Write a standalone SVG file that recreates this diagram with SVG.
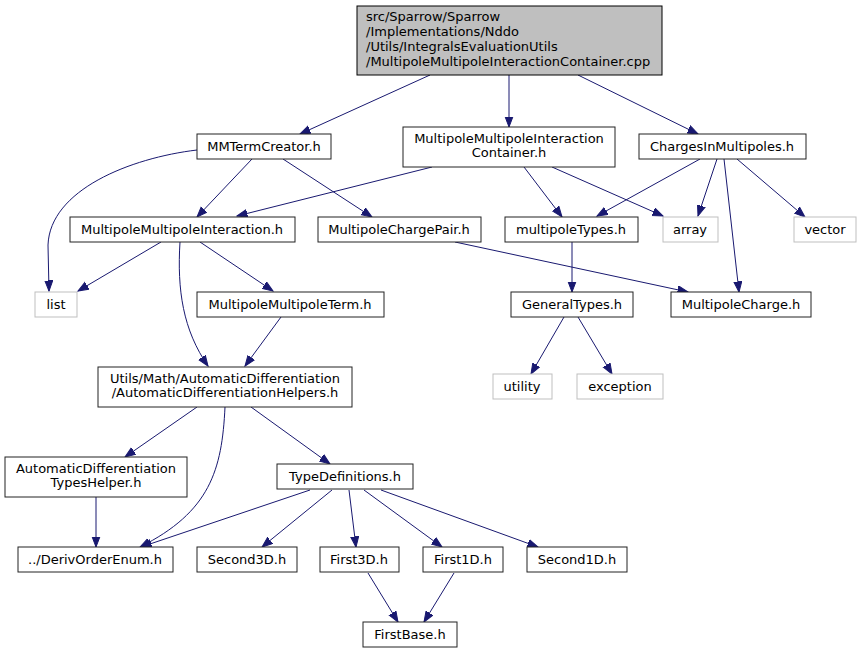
<svg xmlns="http://www.w3.org/2000/svg" width="861" height="653" viewBox="0 0 861 653">
<style>
.n rect{fill:#fff;stroke:#222;stroke-width:1}
.g rect{fill:#fff;stroke:#bfbfbf;stroke-width:1}
.r rect{fill:#bfbfbf;stroke:#000;stroke-width:1}
text{font-family:"DejaVu Sans",sans-serif;font-size:13px;fill:#000}
.c text{text-anchor:middle}
#edges path{fill:none;stroke:#191970;stroke-width:1;marker-end:url(#ah)}
</style>
<defs>
<marker id="ah" markerUnits="userSpaceOnUse" markerWidth="12" markerHeight="10" refX="10.5" refY="4.5" orient="auto">
<path d="M0,0.5 L10.5,4.5 L0,8.5 z" fill="#191970" stroke="#191970" stroke-width="1"/>
</marker>
</defs>
<rect width="861" height="653" fill="#fff"/>
<g id="edges">
<path d="M430,75 L300,134"/>
<path d="M509,75 L509,127"/>
<path d="M578,75 L698,134"/>
<path d="M197,150 C130,158 50,190 48,245 L49,291"/>
<path d="M252,159 L197,217"/>
<path d="M283,159 L372,217"/>
<path d="M432,167 L237,216"/>
<path d="M524,167 L562,217"/>
<path d="M552,167 L663,216"/>
<path d="M700,159 L597,216"/>
<path d="M717,159 L698,216"/>
<path d="M724,159 L739,292"/>
<path d="M737,159 L805,217"/>
<path d="M455,242 L688,292"/>
<path d="M572,242 L572,292"/>
<path d="M161,242 L78,291"/>
<path d="M200,242 L273,291"/>
<path d="M180,242 C177,290 183,330 208,366"/>
<path d="M281,317 L245,366"/>
<path d="M564,317 L531,374"/>
<path d="M578,317 L612,374"/>
<path d="M197,407 L125,457"/>
<path d="M225,407 C222,470 210,512 140,547"/>
<path d="M251,407 L330,464"/>
<path d="M96,497 L96,547"/>
<path d="M310,490 L141,547"/>
<path d="M332,490 L262,547"/>
<path d="M349,490 L356,547"/>
<path d="M364,490 L442,547"/>
<path d="M381,490 L538,547"/>
<path d="M368,573 L398,622"/>
<path d="M454,573 L424,622"/>
</g>
<g id="root" class="r"><rect x="357" y="6" width="305" height="69"/>
<text x="366" y="21">src/Sparrow/Sparrow</text>
<text x="366" y="36">/Implementations/Nddo</text>
<text x="366" y="51">/Utils/IntegralsEvaluationUtils</text>
<text x="366" y="66">/MultipoleMultipoleInteractionContainer.cpp</text></g>
<g id="MMTermCreator" class="n c"><rect x="197" y="134" width="134" height="25"/><text x="264" y="151">MMTermCreator.h</text></g>
<g id="MMIContainer" class="n c"><rect x="403" y="127" width="212" height="40"/><text x="509" y="143">MultipoleMultipoleInteraction</text><text x="509" y="157">Container.h</text></g>
<g id="ChargesInMultipoles" class="n c"><rect x="639" y="134" width="167" height="25"/><text x="722" y="151">ChargesInMultipoles.h</text></g>
<g id="MMInteraction" class="n c"><rect x="70" y="217" width="225" height="25"/><text x="182" y="234">MultipoleMultipoleInteraction.h</text></g>
<g id="MultipoleChargePair" class="n c"><rect x="318" y="217" width="163" height="25"/><text x="399" y="234">MultipoleChargePair.h</text></g>
<g id="multipoleTypes" class="n c"><rect x="505" y="217" width="133" height="25"/><text x="571" y="234">multipoleTypes.h</text></g>
<g id="array" class="g c"><rect x="663" y="217" width="55" height="25"/><text x="690" y="234">array</text></g>
<g id="vector" class="g c"><rect x="794" y="217" width="62" height="25"/><text x="825" y="234">vector</text></g>
<g id="list" class="g c"><rect x="35" y="292" width="42" height="25"/><text x="56" y="309">list</text></g>
<g id="MMTerm" class="n c"><rect x="197" y="292" width="187" height="25"/><text x="290" y="309">MultipoleMultipoleTerm.h</text></g>
<g id="GeneralTypes" class="n c"><rect x="511" y="292" width="122" height="25"/><text x="572" y="309">GeneralTypes.h</text></g>
<g id="MultipoleCharge" class="n c"><rect x="671" y="292" width="140" height="25"/><text x="741" y="309">MultipoleCharge.h</text></g>
<g id="utility" class="g c"><rect x="493" y="374" width="59" height="25"/><text x="522" y="391">utility</text></g>
<g id="exception" class="g c"><rect x="577" y="374" width="86" height="25"/><text x="620" y="391">exception</text></g>
<g id="ADHelpers" class="n c"><rect x="98" y="367" width="254" height="40"/><text x="225" y="383">Utils/Math/AutomaticDifferentiation</text><text x="225" y="397">/AutomaticDifferentiationHelpers.h</text></g>
<g id="ADTypesHelper" class="n c"><rect x="5" y="457" width="182" height="40"/><text x="96" y="473">AutomaticDifferentiation</text><text x="96" y="487">TypesHelper.h</text></g>
<g id="TypeDefinitions" class="n c"><rect x="277" y="464" width="136" height="25"/><text x="345" y="481">TypeDefinitions.h</text></g>
<g id="DerivOrderEnum" class="n c"><rect x="18" y="547" width="155" height="25"/><text x="95" y="564">../DerivOrderEnum.h</text></g>
<g id="Second3D" class="n c"><rect x="197" y="547" width="100" height="25"/><text x="247" y="564">Second3D.h</text></g>
<g id="First3D" class="n c"><rect x="320" y="547" width="79" height="25"/><text x="359" y="564">First3D.h</text></g>
<g id="First1D" class="n c"><rect x="423" y="547" width="80" height="25"/><text x="463" y="564">First1D.h</text></g>
<g id="Second1D" class="n c"><rect x="527" y="547" width="100" height="25"/><text x="577" y="564">Second1D.h</text></g>
<g id="FirstBase" class="n c"><rect x="363" y="622" width="94" height="25"/><text x="410" y="639">FirstBase.h</text></g>
</svg>
